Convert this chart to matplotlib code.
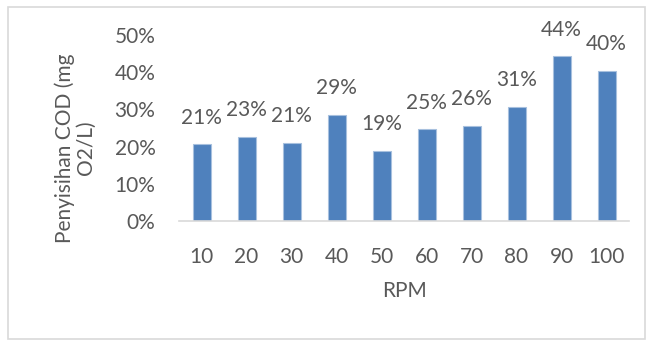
import matplotlib
matplotlib.use("Agg")
import matplotlib.pyplot as plt
from matplotlib.patches import Rectangle

categories = ["10", "20", "30", "40", "50", "60", "70", "80", "90", "100"]
values = [0.206, 0.227, 0.21, 0.286, 0.188, 0.246, 0.256, 0.307, 0.443, 0.403]
yticks = [0, 0.1, 0.2, 0.3, 0.4, 0.5]
ytick_labels = ["0%", "10%", "20%", "30%", "40%", "50%"]

W, H = 652, 341
fig = plt.figure(figsize=(W / 100, H / 100), dpi=100)
plt.rcParams['font.family'] = ['Lato', 'DejaVu Sans']
txt = "#595959"
fs = 15

ax = fig.add_axes([179 / W, 1 - 221 / H, 450 / W, (221 - 35) / H])
x = list(range(len(categories)))
ax.bar(x, values, width=0.4, color="#4F81BD", edgecolor="#A7C0DE", linewidth=0.8, zorder=2)
ax.set_xlim(-0.5, len(categories) - 0.5)
ax.set_ylim(0, 0.5)
ax.set_yticks(yticks)
ax.set_yticklabels(ytick_labels)
ax.set_xticks(x)
ax.set_xticklabels(categories)
ax.tick_params(axis='both', length=0, labelsize=fs, labelcolor=txt)
ax.tick_params(axis='y', pad=17)
ax.tick_params(axis='x', pad=19)
for s in ["top", "right", "left"]:
    ax.spines[s].set_visible(False)
ax.spines["bottom"].set_color("#D9D9D9")
ax.spines["bottom"].set_linewidth(1.2)

for xi, v in zip(x, values):
    ax.annotate(f"{round(v * 100)}%", (xi, v), xytext=(0, 12), textcoords="offset points",
                ha="center", va="bottom", fontsize=fs, color=txt)

ax.set_xlabel("RPM", fontsize=fs, color=txt, labelpad=10)
fig.text(75 / W, 1 - 148 / H, "Penyisihan COD (mg\nO2/L)", rotation=90, ha="center", va="center",
         fontsize=fs, color=txt, multialignment="center", linespacing=1.05)

fig.patches.append(Rectangle((8 / W, 1 - 339 / H), 637 / W, 332 / H, transform=fig.transFigure,
                             fill=False, edgecolor="#D9D9D9", linewidth=1.2))

fig.savefig("out.png", dpi=100)
